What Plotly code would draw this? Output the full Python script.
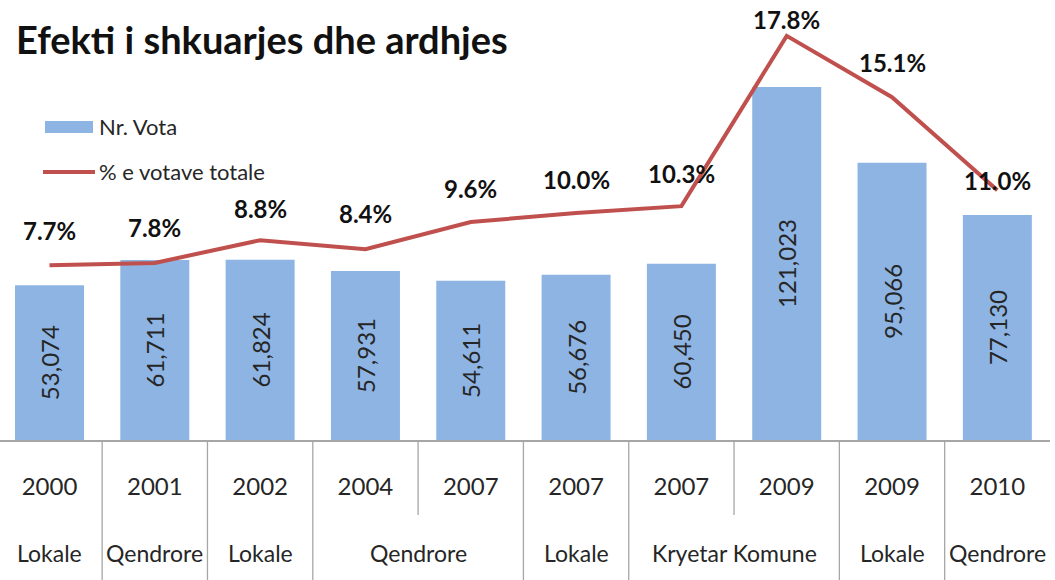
import plotly.graph_objects as go

# ---- data ----
years = ["2000", "2001", "2002", "2004", "2007", "2007", "2007", "2009", "2009", "2010"]
groups = ["Lokale", "Qendrore", "Lokale", "Qendrore", "Qendrore", "Lokale",
          "Kryetar Komune", "Kryetar Komune", "Lokale", "Qendrore"]
votes = [53074, 61711, 61824, 57931, 54611, 56676, 60450, 121023, 95066, 77130]
pct = [7.7, 7.8, 8.8, 8.4, 9.6, 10.0, 10.3, 17.8, 15.1, 11.0]
series_names = ["Nr. Vota", "% e votave totale"]
title_text = "Efekti i shkuarjes dhe ardhjes"

# label vertical offsets (px) for the percentage labels
pct_label_shift = [35, 35, 32, 36, 34, 33, 33, 16, 35, 10]

FONT = "Lato"
BAR_COLOR = "#8DB4E2"
LINE_COLOR = "#C0504D"
TXT = "#262626"
W, H = 1055, 580
ML, MR, MT, MB = 0, 5, 0, 140
PW, PH = W - ML - MR, H - MT - MB


def px_x(px):
    return (px - ML) / PW


def px_y(py):
    return 1 - (py - MT) / PH


idx = list(range(len(years)))

fig = go.Figure()
fig.add_trace(go.Bar(
    x=idx, y=votes, name=series_names[0],
    marker=dict(color=BAR_COLOR, line=dict(width=0)),
    width=0.655,
    texttemplate="%{y:,}", textposition="inside", insidetextanchor="middle",
    textangle=-90, textfont=dict(family=FONT, size=24, color=TXT),
    yaxis="y", showlegend=False,
))
fig.add_trace(go.Scatter(
    x=idx, y=pct, name=series_names[1], mode="lines",
    line=dict(color=LINE_COLOR, width=4),
    yaxis="y2", showlegend=False,
))

annotations = []
for i, (p, s) in enumerate(zip(pct, pct_label_shift)):
    annotations.append(dict(
        x=i, y=p, xref="x", yref="y2", text=f"{p:.1f}%", showarrow=False,
        yshift=s, font=dict(family=FONT, size=24, color="#111", weight="bold"),
    ))

# group labels (second level of category axis)
runs = []
start = 0
for i in range(1, len(groups) + 1):
    if i == len(groups) or groups[i] != groups[start]:
        runs.append((start, i - 1, groups[start]))
        start = i
for a, b, g in runs:
    annotations.append(dict(
        x=(a + b) / 2, y=0, xref="x", yref="paper", text=g, showarrow=False,
        yanchor="middle", yshift=-113, font=dict(family=FONT, size=23, color=TXT),
    ))

# title
annotations.append(dict(
    x=px_x(14), y=px_y(39), xref="paper", yref="paper", text=title_text,
    showarrow=False, xanchor="left", yanchor="middle",
    font=dict(family=FONT, size=38, color="#111", weight="bold"),
))

# legend (drawn manually to get the wide Excel-style swatches)
annotations.append(dict(
    x=px_x(97), y=px_y(127), xref="paper", yref="paper", text=series_names[0],
    showarrow=False, xanchor="left", yanchor="middle",
    font=dict(family=FONT, size=22, color=TXT),
))
annotations.append(dict(
    x=px_x(97), y=px_y(172), xref="paper", yref="paper", text=series_names[1],
    showarrow=False, xanchor="left", yanchor="middle",
    font=dict(family=FONT, size=22, color=TXT),
))

shapes = [
    dict(type="rect", xref="paper", yref="paper",
         x0=px_x(45), x1=px_x(93), y0=px_y(121), y1=px_y(133),
         fillcolor=BAR_COLOR, line=dict(width=0)),
    dict(type="line", xref="paper", yref="paper",
         x0=px_x(43), x1=px_x(95), y0=px_y(172), y1=px_y(172),
         line=dict(color=LINE_COLOR, width=4)),
]
for i in range(len(years) - 1):
    long_line = groups[i] != groups[i + 1]
    shapes.append(dict(
        type="line", xref="x", yref="paper", ysizemode="pixel", yanchor=0,
        x0=i + 0.5, x1=i + 0.5, y0=0, y1=-140 if long_line else -75,
        line=dict(color="#A6A6A6", width=1.3),
    ))

fig.update_layout(
    width=W, height=H,
    margin=dict(l=ML, r=MR, t=MT, b=MB),
    paper_bgcolor="white", plot_bgcolor="white",
    font=dict(family=FONT, color=TXT),
    xaxis=dict(
        range=[-0.47, 9.5], tickmode="array", tickvals=idx, ticktext=years,
        ticks="", showgrid=False, zeroline=False, showline=True,
        linecolor="#A6A6A6", linewidth=1.5, ticklabelstandoff=24,
        tickfont=dict(family=FONT, size=24, color=TXT),
    ),
    yaxis=dict(range=[0, 150840], visible=False, showgrid=False),
    yaxis2=dict(range=[0, 19.38], overlaying="y", visible=False, showgrid=False),
    showlegend=False,
    annotations=annotations,
    shapes=shapes,
)

fig.write_html("out.html", config={"displayModeBar": False},
               post_script="document.body.style.margin='0';")
